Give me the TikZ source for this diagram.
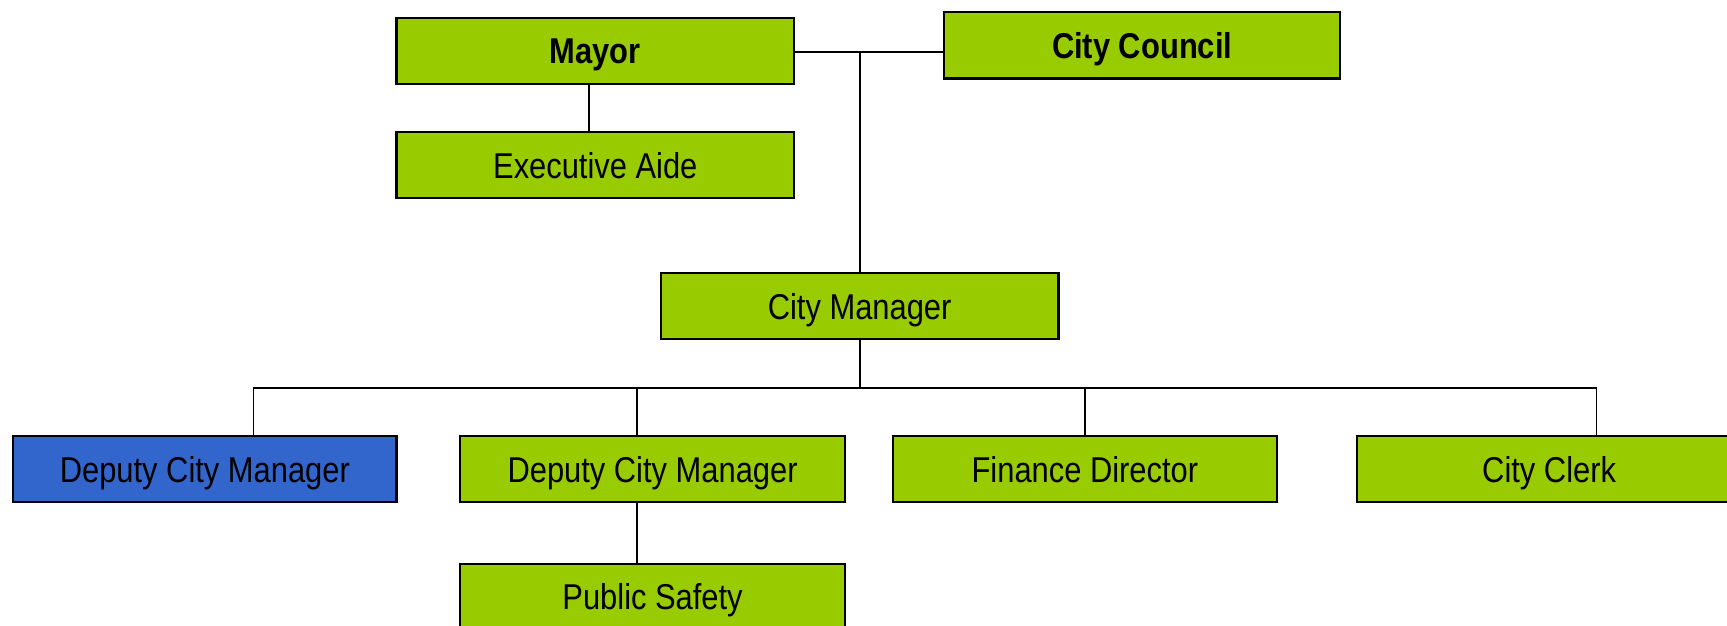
\documentclass[tikz,border=0pt]{standalone}
\usepackage{fontspec}
\setmainfont{Liberation Sans}[FakeStretch=0.86]
\usetikzlibrary{backgrounds}
\definecolor{boxgreen}{HTML}{99CC00}
\definecolor{boxblue}{HTML}{3366CC}
\tikzset{
  orgbox/.style={draw=black, line width=1.9pt, fill=boxgreen, rectangle,
    minimum height=60pt, inner sep=0pt, text height=23.4pt, text depth=0pt,
    font=\fontsize{32.6}{38}\selectfont, text=black},
  bluebox/.style={orgbox, fill=boxblue},
  boldbox/.style={orgbox, font=\fontsize{32.6}{38}\selectfont\bfseries},
  link/.style={draw=black, line width=1.5pt}
}
\begin{document}
\begin{tikzpicture}[x=1pt,y=-1pt]
\useasboundingbox (0,0) rectangle (1568,568);
\fill[white] (0,0) rectangle (1568,568);
% boxes
\node[boldbox, minimum width=361pt] (mayor) at (540.5,46) {Mayor};
\node[boldbox, minimum width=360pt] (council) at (1037,41.3) {City Council};
\node[orgbox, minimum width=361pt] (aide) at (540.5,150) {Executive Aide};
\node[orgbox, minimum width=361pt] (cm) at (780.5,278) {City Manager};
\node[bluebox, minimum width=348pt] (dep1) at (186,426) {Deputy City Manager};
\node[orgbox, minimum width=349pt] (dep2) at (592.5,426) {Deputy City Manager};
\node[orgbox, minimum width=349pt] (fin) at (985,426) {Finance Director};
\node[orgbox, minimum width=349pt] (clerk) at (1406.5,426) {City Clerk};
\node[orgbox, minimum width=349pt] (ps) at (592.5,542) {Public Safety};
% shadow of council
\begin{scope}[on background layer]
\fill[gray!45] ([shift={(1.6,1.8)}]council.north west) rectangle ([shift={(1.8,1.8)}]council.south east);
\end{scope}
% connectors
\coordinate (j1) at (781,47);
\draw[link] (mayor.east |- j1) -- (council.west |- j1);
\draw[link] (j1) -- (j1 |- cm.north);
\draw[link] ([xshift=-6pt]mayor.south) -- ([xshift=-6pt]aide.north);
\coordinate (bus) at (781,352);
\coordinate (b1) at (230,352);
\coordinate (b2) at (578.5,352);
\coordinate (b3) at (985,352);
\coordinate (b4) at (1449.5,352);
\draw[link] (bus |- cm.south) -- (bus);
\draw[link] (b1) -- (b4);
\draw[link] (b1) -- (b1 |- dep1.north);
\draw[link] (b2) -- (b2 |- dep2.north);
\draw[link] (b3) -- (b3 |- fin.north);
\draw[link] (b4) -- (b4 |- clerk.north);
\draw[link] (b2 |- dep2.south) -- (b2 |- ps.north);
\end{tikzpicture}
\end{document}
